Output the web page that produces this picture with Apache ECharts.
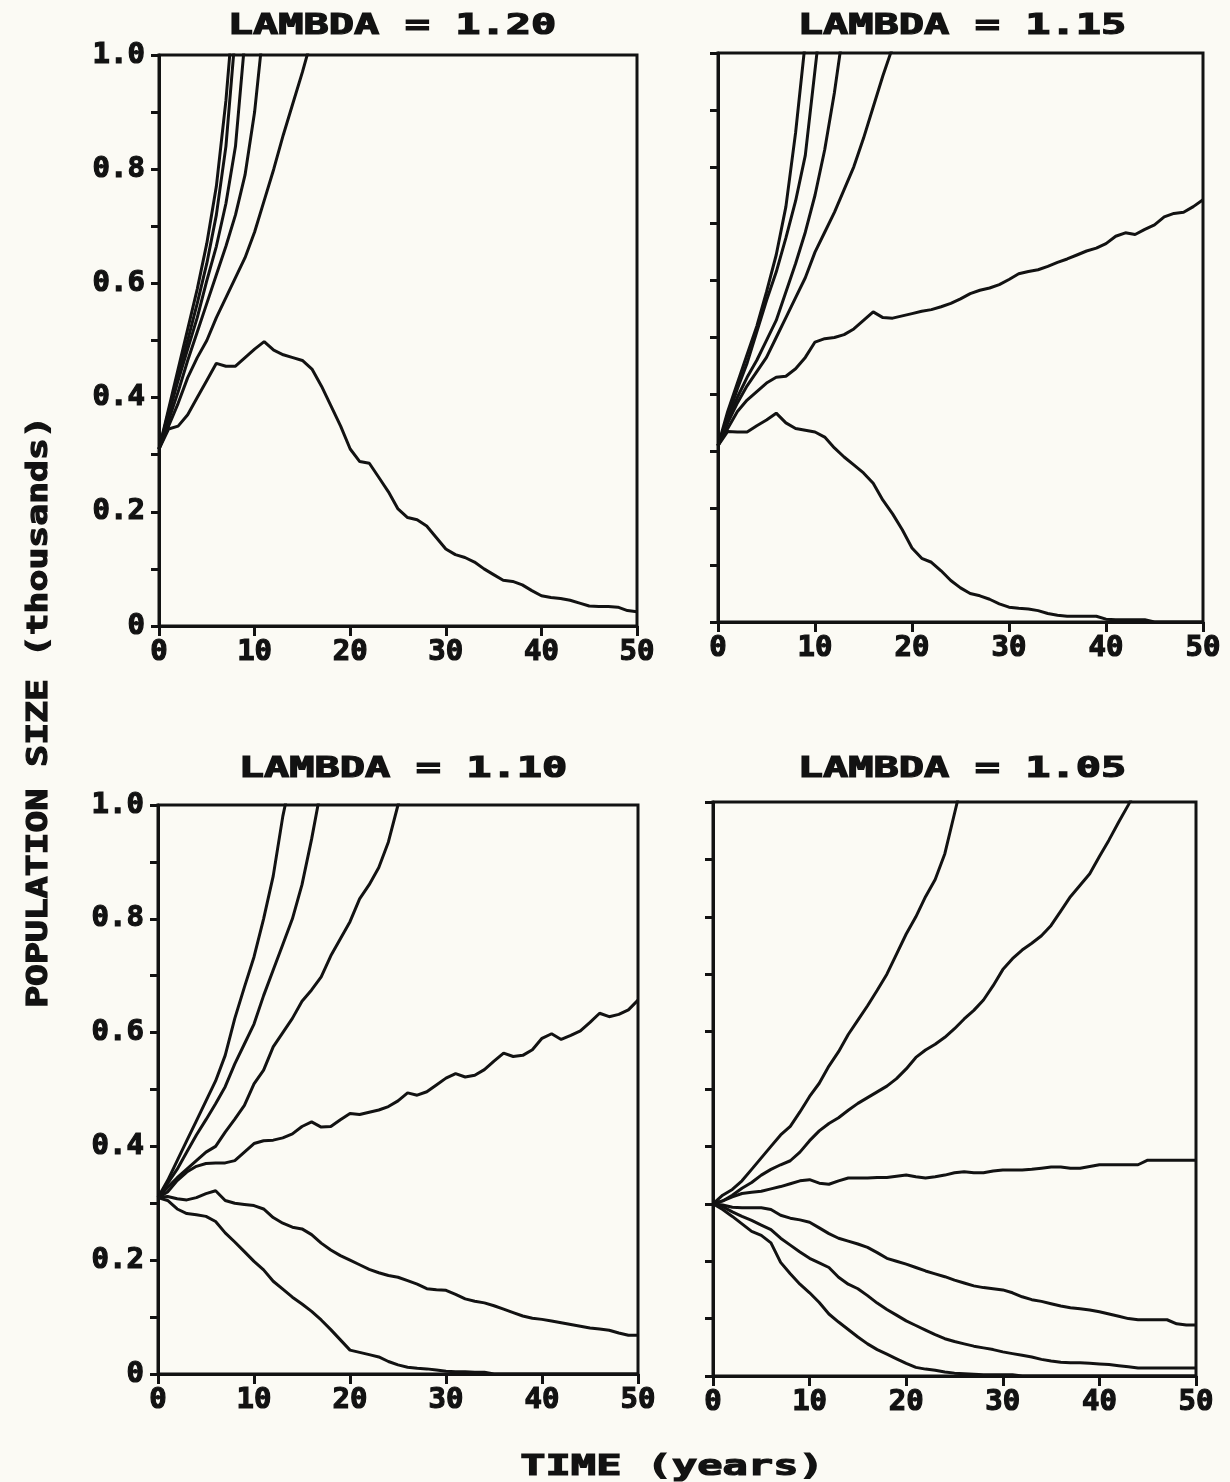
<!DOCTYPE html>
<html>
<head>
<meta charset="utf-8">
<script src="https://cdn.jsdelivr.net/npm/echarts@6.0.0/dist/echarts.min.js"></script>
<style>
html, body { margin: 0; padding: 0; background: #fbfaf4; }
#chart { width: 1230px; height: 1482px; }
</style>
</head>
<body>
<div id="chart"></div>
<script>
// tick labels
var xTickLabels = ['0', '10', '20', '30', '40', '50'];
var yTickLabels = ['0', '', '0.2', '', '0.4', '', '0.6', '', '0.8', '', '1.0'];
var titles = ['LAMBDA = 1.20', 'LAMBDA = 1.15', 'LAMBDA = 1.10', 'LAMBDA = 1.05'];

// population (thousands), one value per year from year 0
// lambda = 1.20
var p120a = [0.31, 0.38, 0.45, 0.52, 0.59, 0.67, 0.77, 0.92, 1.12];
var p120b = [0.31, 0.375, 0.44, 0.50, 0.565, 0.635, 0.72, 0.84, 1.04];
var p120c = [0.31, 0.37, 0.43, 0.485, 0.54, 0.605, 0.665, 0.74, 0.84, 1.03];
var p120d = [0.31, 0.36, 0.41, 0.465, 0.515, 0.565, 0.615, 0.665, 0.72, 0.79, 0.90, 1.06];
var p120e = [0.31, 0.35, 0.39, 0.435, 0.47, 0.50, 0.54, 0.575, 0.61, 0.645, 0.69, 0.745, 0.80, 0.86, 0.915, 0.97, 1.03];
var p120f = [0.31, 0.345, 0.35, 0.37, 0.40, 0.43, 0.46, 0.455, 0.455, 0.47,
  0.485, 0.498, 0.483, 0.475, 0.47, 0.465, 0.45, 0.42, 0.385, 0.35,
  0.31, 0.288, 0.285, 0.26, 0.235, 0.205, 0.19, 0.186, 0.175, 0.155,
  0.135, 0.125, 0.12, 0.112, 0.1, 0.09, 0.08, 0.078, 0.072, 0.062,
  0.053, 0.05, 0.048, 0.045, 0.04, 0.035, 0.034, 0.034, 0.033, 0.027, 0.025];

// lambda = 1.15
var p115a = [0.31, 0.37, 0.42, 0.47, 0.52, 0.58, 0.645, 0.73, 0.86, 1.02];
var p115b = [0.31, 0.36, 0.41, 0.455, 0.51, 0.565, 0.615, 0.675, 0.74, 0.82, 0.97, 1.12];
var p115c = [0.31, 0.355, 0.395, 0.43, 0.46, 0.495, 0.53, 0.58, 0.63, 0.685, 0.75, 0.83, 0.93, 1.05];
var p115d = [0.31, 0.35, 0.385, 0.415, 0.44, 0.465, 0.50, 0.535, 0.57, 0.605, 0.65, 0.685, 0.72, 0.76, 0.80, 0.85, 0.905, 0.96, 1.01];
var p115e = [0.31, 0.34, 0.37, 0.39, 0.405, 0.42, 0.43, 0.432, 0.445, 0.465,
  0.492, 0.498, 0.50, 0.505, 0.515, 0.53, 0.545, 0.535, 0.534, 0.538,
  0.542, 0.546, 0.549, 0.554, 0.56, 0.568, 0.577, 0.583, 0.587, 0.593,
  0.602, 0.612, 0.616, 0.619, 0.625, 0.632, 0.638, 0.645, 0.652, 0.657,
  0.665, 0.678, 0.684, 0.681, 0.69, 0.698, 0.712, 0.718, 0.72, 0.73, 0.742];
var p115f = [0.31, 0.335, 0.334, 0.334, 0.345, 0.355, 0.367, 0.35, 0.34, 0.337,
  0.334, 0.325, 0.306, 0.29, 0.276, 0.262, 0.244, 0.214, 0.19, 0.162,
  0.13, 0.112, 0.105, 0.09, 0.073, 0.06, 0.05, 0.046, 0.04, 0.032,
  0.026, 0.024, 0.023, 0.02, 0.015, 0.012, 0.01, 0.01, 0.01, 0.01,
  0.005, 0.004, 0.004, 0.004, 0.004, 0, 0, 0, 0, 0, 0];

// lambda = 1.10
var p110a = [0.31, 0.34, 0.375, 0.41, 0.445, 0.48, 0.515, 0.56, 0.625, 0.68, 0.733, 0.80, 0.875, 0.98, 1.06];
var p110b = [0.31, 0.335, 0.36, 0.39, 0.42, 0.447, 0.475, 0.505, 0.545, 0.58, 0.615, 0.665, 0.71, 0.755, 0.80, 0.86, 0.94, 1.03];
var p110c = [0.31, 0.328, 0.345, 0.36, 0.375, 0.39, 0.40, 0.425, 0.448, 0.472,
  0.51, 0.534, 0.575, 0.60, 0.625, 0.655, 0.675, 0.698, 0.735, 0.765,
  0.795, 0.835, 0.86, 0.89, 0.935, 1.0, 1.06];
var p110d = [0.31, 0.32, 0.34, 0.355, 0.365, 0.37, 0.371, 0.371, 0.375, 0.39,
  0.405, 0.41, 0.411, 0.415, 0.422, 0.435, 0.443, 0.434, 0.435, 0.447,
  0.458, 0.456, 0.46, 0.464, 0.47, 0.48, 0.494, 0.49, 0.496, 0.508,
  0.52, 0.528, 0.522, 0.525, 0.535, 0.55, 0.564, 0.558, 0.56, 0.57,
  0.59, 0.598, 0.588, 0.595, 0.603, 0.618, 0.634, 0.628, 0.632, 0.64, 0.657];
var p110e = [0.31, 0.312, 0.308, 0.306, 0.31, 0.317, 0.322, 0.305, 0.3, 0.298,
  0.296, 0.29, 0.275, 0.265, 0.258, 0.255, 0.245, 0.23, 0.218, 0.208,
  0.2, 0.192, 0.184, 0.178, 0.173, 0.17, 0.164, 0.158, 0.15, 0.148,
  0.147, 0.14, 0.132, 0.128, 0.125, 0.12, 0.114, 0.108, 0.102, 0.098,
  0.096, 0.093, 0.09, 0.087, 0.084, 0.081, 0.079, 0.077, 0.072, 0.068, 0.068];
var p110f = [0.31, 0.305, 0.29, 0.282, 0.28, 0.277, 0.268, 0.248, 0.232, 0.215,
  0.198, 0.183, 0.163, 0.149, 0.135, 0.123, 0.11, 0.095, 0.078, 0.06,
  0.042, 0.038, 0.034, 0.03, 0.022, 0.016, 0.012, 0.01, 0.009, 0.007,
  0.005, 0.004, 0.004, 0.003, 0.003, 0, 0, 0, 0, 0,
  0, 0, 0, 0, 0, 0, 0, 0, 0, 0, 0];

// lambda = 1.05
var p105a = [0.30, 0.315, 0.325, 0.34, 0.36, 0.38, 0.40, 0.42, 0.435, 0.46,
  0.487, 0.51, 0.54, 0.565, 0.595, 0.62, 0.645, 0.672, 0.70, 0.735,
  0.77, 0.80, 0.835, 0.865, 0.91, 0.98, 1.05];
var p105b = [0.30, 0.305, 0.315, 0.327, 0.337, 0.35, 0.36, 0.368, 0.375, 0.39,
  0.41, 0.427, 0.44, 0.45, 0.463, 0.475, 0.485, 0.495, 0.505, 0.518,
  0.535, 0.555, 0.568, 0.578, 0.59, 0.605, 0.622, 0.637, 0.655, 0.68,
  0.708, 0.727, 0.742, 0.754, 0.767, 0.785, 0.81, 0.835, 0.855, 0.875,
  0.905, 0.934, 0.965, 0.995, 1.03];
var p105c = [0.30, 0.305, 0.312, 0.318, 0.32, 0.322, 0.326, 0.33, 0.335, 0.34,
  0.342, 0.336, 0.334, 0.34, 0.345, 0.345, 0.345, 0.346, 0.346, 0.348,
  0.35, 0.347, 0.345, 0.347, 0.35, 0.354, 0.356, 0.354, 0.354, 0.357,
  0.359, 0.359, 0.359, 0.36, 0.362, 0.364, 0.364, 0.362, 0.362, 0.365,
  0.368, 0.368, 0.368, 0.368, 0.368, 0.376, 0.376, 0.376, 0.376, 0.376, 0.376];
var p105d = [0.30, 0.298, 0.294, 0.293, 0.293, 0.293, 0.29, 0.28, 0.275, 0.272,
  0.268, 0.258, 0.248, 0.24, 0.235, 0.23, 0.224, 0.215, 0.205, 0.2,
  0.195, 0.189, 0.183, 0.178, 0.173, 0.167, 0.162, 0.157, 0.154, 0.152,
  0.15, 0.145, 0.138, 0.133, 0.13, 0.126, 0.122, 0.119, 0.117, 0.115,
  0.112, 0.108, 0.104, 0.1, 0.098, 0.098, 0.098, 0.098, 0.091, 0.089, 0.089];
var p105e = [0.30, 0.295, 0.286, 0.278, 0.271, 0.263, 0.255, 0.24, 0.228, 0.216,
  0.205, 0.197, 0.189, 0.172, 0.16, 0.152, 0.14, 0.127, 0.116, 0.106,
  0.096, 0.088, 0.08, 0.072, 0.065, 0.06, 0.056, 0.052, 0.049, 0.046,
  0.042, 0.039, 0.036, 0.033, 0.029, 0.026, 0.024, 0.023, 0.023, 0.022,
  0.021, 0.02, 0.018, 0.016, 0.014, 0.014, 0.014, 0.014, 0.014, 0.014, 0.014];
var p105f = [0.30, 0.29, 0.278, 0.265, 0.252, 0.245, 0.232, 0.198, 0.178, 0.16,
  0.145, 0.128, 0.108, 0.094, 0.081, 0.068, 0.056, 0.046, 0.038, 0.03,
  0.022, 0.015, 0.012, 0.01, 0.007, 0.005, 0.004, 0.003, 0.002, 0.002,
  0.002, 0.002, 0, 0, 0, 0, 0, 0, 0, 0,
  0, 0, 0, 0, 0, 0, 0, 0, 0, 0, 0];

var panels = [
  [p120a, p120b, p120c, p120d, p120e, p120f],
  [p115a, p115b, p115c, p115d, p115e, p115f],
  [p110a, p110b, p110c, p110d, p110e, p110f],
  [p105a, p105b, p105c, p105d, p105e, p105f]
];

var ink = '#121212';
var monoFont = '"DejaVu Sans Mono", "Liberation Mono", monospace';

// plot boxes
var gridBoxes = [
  { left: 159, top: 55, width: 478, height: 571 },
  { left: 718, top: 53, width: 485, height: 569 },
  { left: 158, top: 805, width: 480, height: 569 },
  { left: 713, top: 802, width: 483, height: 574 }
];
var titlePos = [[392, 27], [962, 27], [403, 770], [962, 770]];

function toPoints(arr) {
  return arr.map(function (v, i) { return [i, v]; });
}

// heavy printer-style text
function heavyText(text, x, y, sx, rot) {
  return {
    type: 'text', x: x, y: y, scaleX: sx, rotation: rot || 0,
    style: {
      text: text, fill: ink, stroke: ink, lineWidth: 1.2,
      font: 'bold 28px ' + monoFont,
      textAlign: 'center', textVerticalAlign: 'middle'
    }
  };
}

var grid = [], xAxis = [], yAxis = [], series = [], graphic = [];
gridBoxes.forEach(function (box, k) {
  grid.push({
    left: box.left, top: box.top, width: box.width, height: box.height,
    show: true, borderColor: ink, borderWidth: 3, backgroundColor: 'transparent'
  });
  xAxis.push({
    gridIndex: k, type: 'value', min: 0, max: 50, interval: 10,
    axisLine: { show: true, onZero: false, lineStyle: { color: ink, width: 3 } },
    axisTick: { show: true, length: 10, lineStyle: { color: ink, width: 3 } },
    axisLabel: {
      margin: 12, color: ink, fontFamily: monoFont, fontWeight: 'bold', fontSize: 29,
      textBorderColor: ink, textBorderWidth: 1.2,
      formatter: function (v, i) { return xTickLabels[i]; }
    },
    splitLine: { show: false }
  });
  yAxis.push({
    gridIndex: k, type: 'value', min: 0, max: 1, interval: 0.1,
    axisLine: { show: true, lineStyle: { color: ink, width: 3 } },
    axisTick: { show: true, length: 8, lineStyle: { color: ink, width: 3 } },
    axisLabel: {
      show: k % 2 === 0, margin: 14, color: ink, fontFamily: monoFont,
      fontWeight: 'bold', fontSize: 29, textBorderColor: ink, textBorderWidth: 1.2,
      formatter: function (v, i) { return yTickLabels[i]; }
    },
    splitLine: { show: false }
  });
  panels[k].forEach(function (curve) {
    series.push({
      type: 'line', xAxisIndex: k, yAxisIndex: k,
      data: toPoints(curve), symbol: 'none', clip: true, silent: true,
      lineStyle: { color: ink, width: 3 }
    });
  });
  graphic.push(heavyText(titles[k], titlePos[k][0], titlePos[k][1], 1.5));
});

graphic.push(heavyText('POPULATION SIZE (thousands)', 40, 712, 1.3, Math.PI / 2));
graphic.push(heavyText('TIME (years)', 672, 1468, 1.5));

var myChart = echarts.init(document.getElementById('chart'), null, { renderer: 'canvas' });
var option = {
  backgroundColor: '#fbfaf4',
  animation: false,
  grid: grid,
  xAxis: xAxis,
  yAxis: yAxis,
  series: series,
  graphic: graphic
};
myChart.setOption(option);
</script>
</body>
</html>
